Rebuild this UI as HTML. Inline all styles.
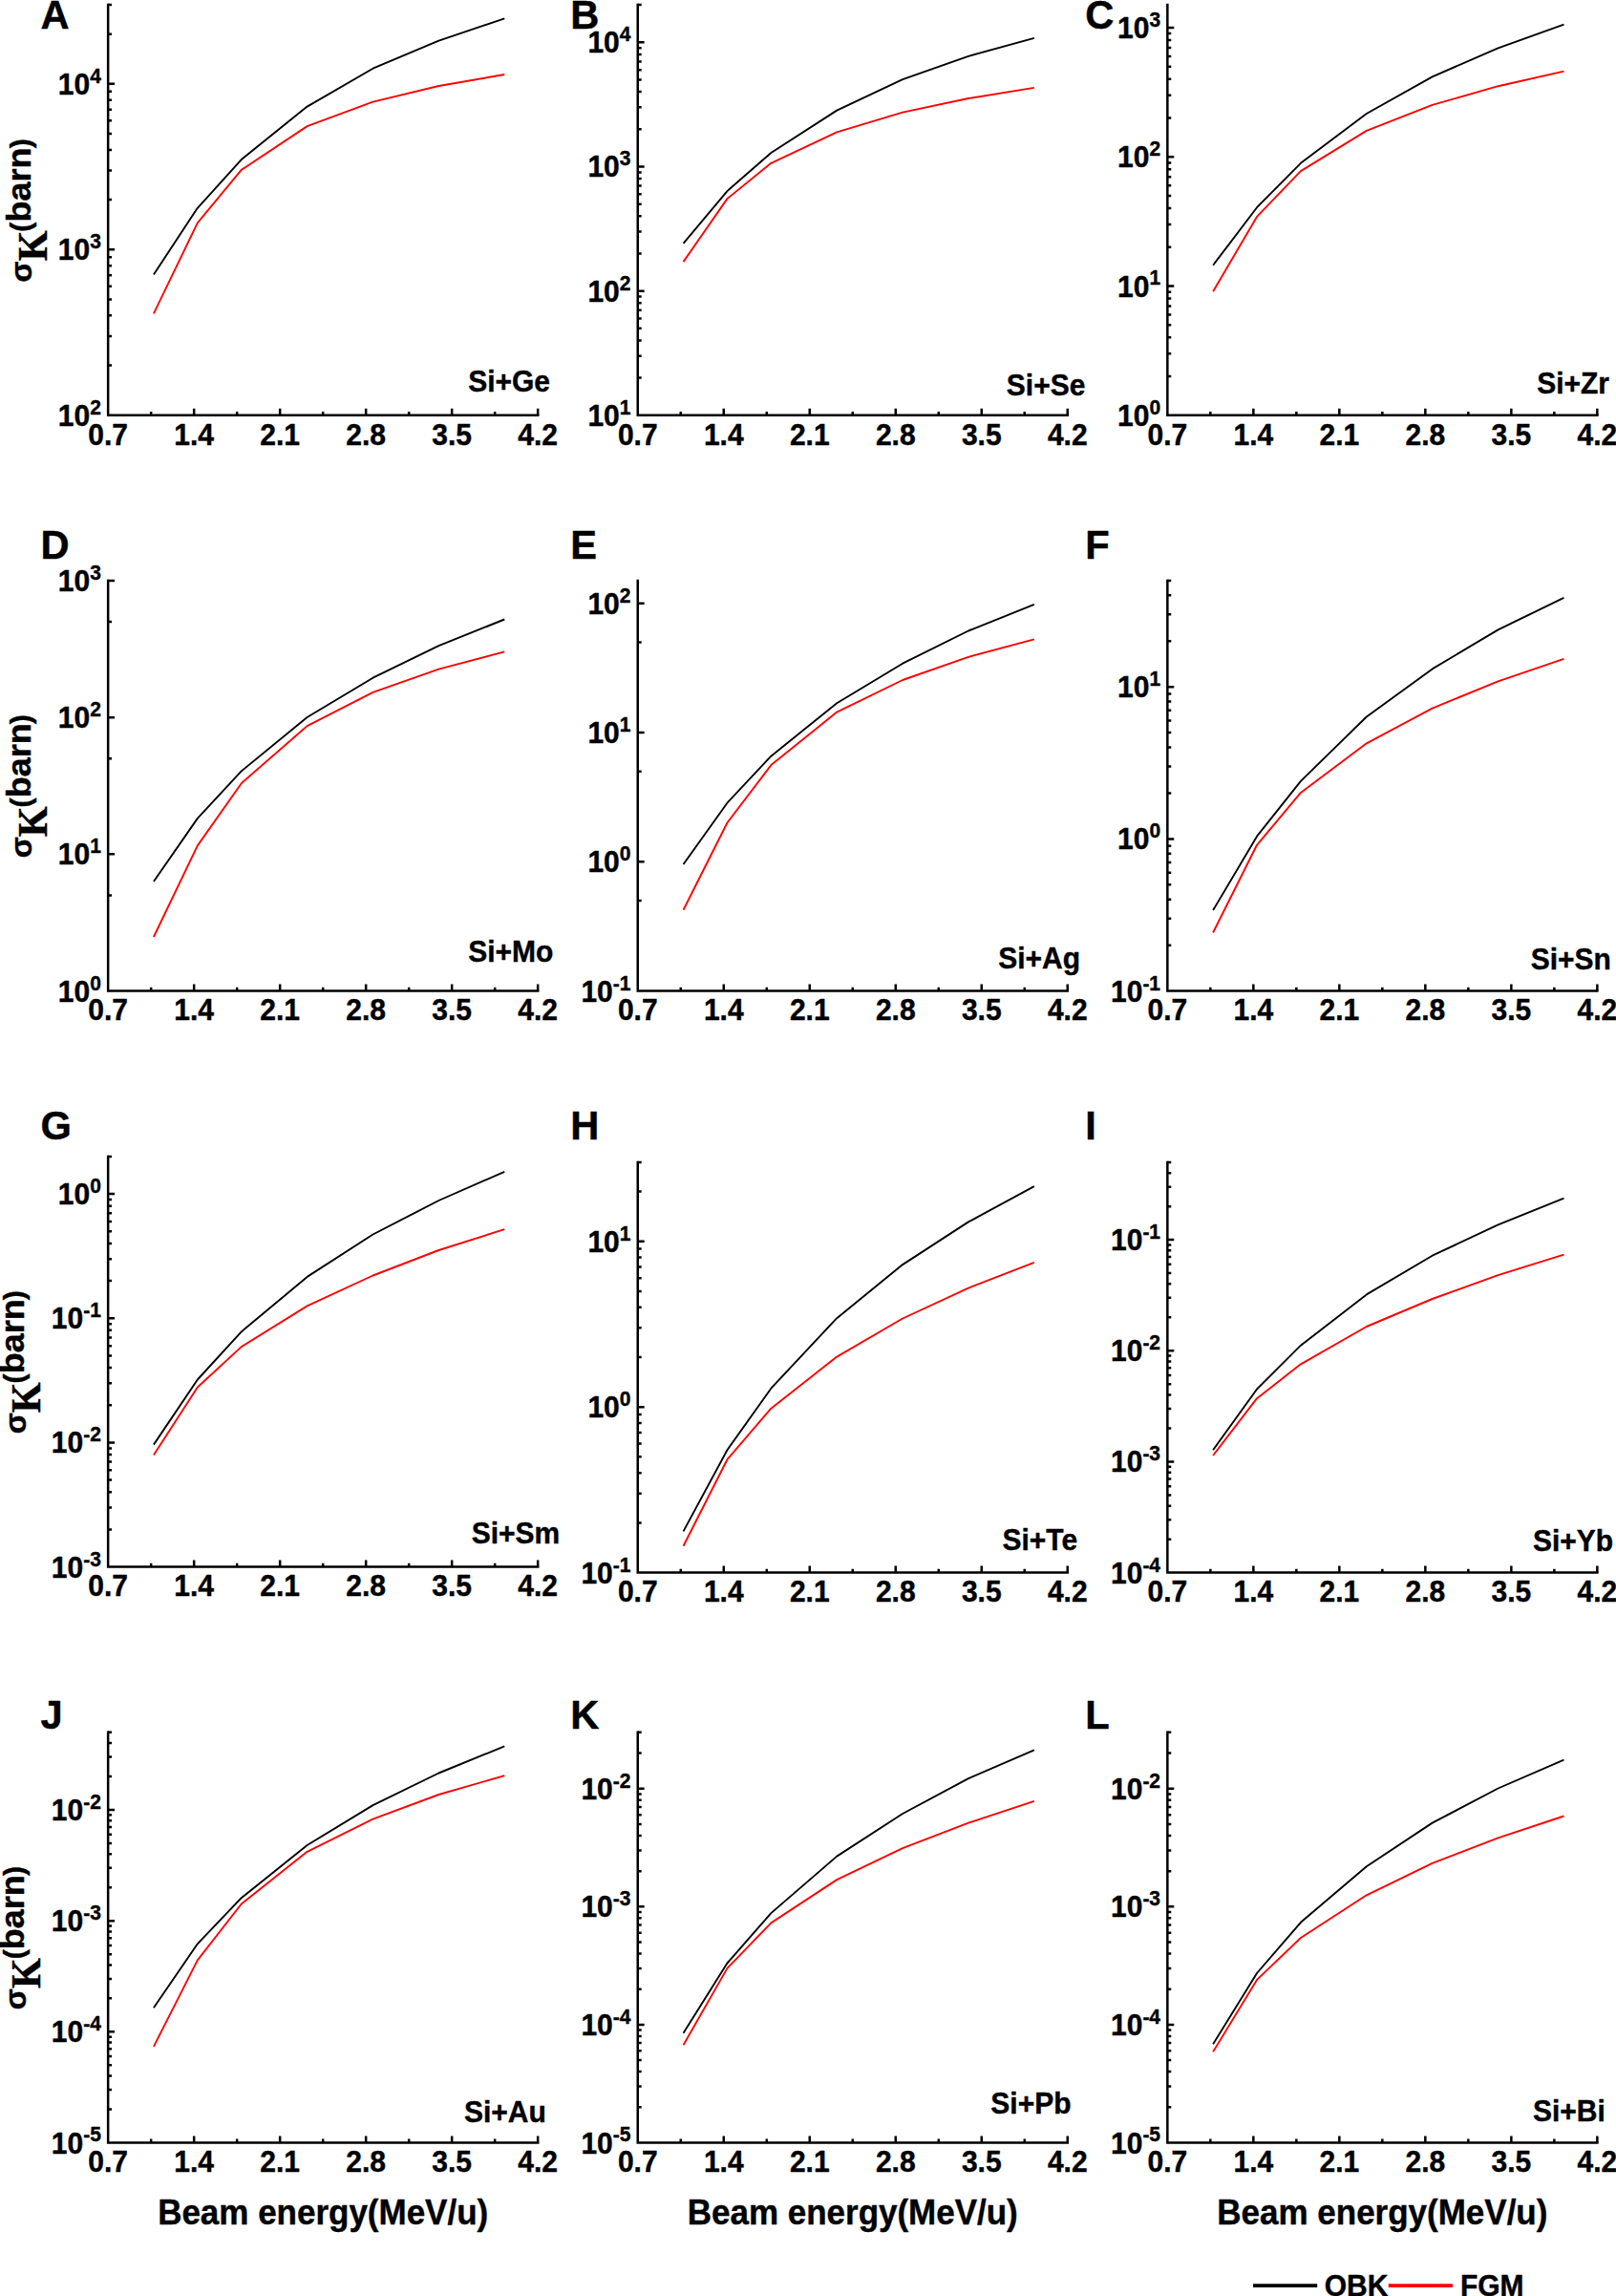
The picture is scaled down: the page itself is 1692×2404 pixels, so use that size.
<!DOCTYPE html>
<html lang="en">
<head>
<meta charset="utf-8">
<title>K-shell ionization cross sections: OBK vs FGM</title>
<style>
html,body{margin:0;padding:0;background:#fff;}
body{width:1692px;height:2404px;overflow:hidden;}
svg{display:block;}
svg text{font-family:'Liberation Sans', sans-serif;font-weight:700;fill:#000;stroke:#000;stroke-width:0.4px;stroke-linejoin:round;}
</style>
</head>
<body>
<svg width="1692" height="2404" viewBox="0 0 1692 2404">
<rect x="0" y="0" width="1692" height="2404" fill="#fff"/>
<g>
<path d="M113.15 5.1 V434.8 H563.15" fill="none" stroke="#000" stroke-width="2.5" stroke-linecap="square" stroke-linejoin="miter"/>
<path d="M158.15 434.8 v-3.9 M203.15 434.8 v-7 M248.15 434.8 v-3.9 M293.15 434.8 v-7 M338.15 434.8 v-3.9 M383.15 434.8 v-7 M428.15 434.8 v-3.9 M473.15 434.8 v-7 M518.15 434.8 v-3.9 M563.15 434.8 v-7 M113.15 382.58 h3.9 M113.15 352.03 h3.9 M113.15 330.36 h3.9 M113.15 313.55 h3.9 M113.15 299.82 h3.9 M113.15 288.2 h3.9 M113.15 278.14 h3.9 M113.15 269.27 h3.9 M113.15 261.33 h6.9 M113.15 209.11 h3.9 M113.15 178.57 h3.9 M113.15 156.89 h3.9 M113.15 140.08 h3.9 M113.15 126.35 h3.9 M113.15 114.74 h3.9 M113.15 104.68 h3.9 M113.15 95.8 h3.9 M113.15 87.87 h6.9 M113.15 35.65 h3.9 M113.15 5.1 h3.9" fill="none" stroke="#000" stroke-width="2.5"/>
<polyline points="160.91,287.4 206.82,217.8 252.74,167.1 321.62,111.6 390.5,71.7 459.37,42.7 528.25,19.4" fill="none" stroke="#000" stroke-width="1.9" stroke-linejoin="round"/>
<polyline points="160.91,328.3 206.82,233.4 252.74,177.9 321.62,132.1 390.5,106.7 459.37,90 528.25,78" fill="none" stroke="#f00" stroke-width="1.9" stroke-linejoin="round"/>
<text transform="translate(113.15 465.5) scale(1 1.04)" font-size="30" text-anchor="middle">0.7</text>
<text transform="translate(203.15 465.5) scale(1 1.04)" font-size="30" text-anchor="middle">1.4</text>
<text transform="translate(293.15 465.5) scale(1 1.04)" font-size="30" text-anchor="middle">2.1</text>
<text transform="translate(383.15 465.5) scale(1 1.04)" font-size="30" text-anchor="middle">2.8</text>
<text transform="translate(473.15 465.5) scale(1 1.04)" font-size="30" text-anchor="middle">3.5</text>
<text transform="translate(563.15 465.5) scale(1 1.04)" font-size="30" text-anchor="middle">4.2</text>
<text transform="translate(105.85 445.8) scale(1 1.04)" font-size="30" text-anchor="end">10<tspan font-size="21" dy="-11.63">2</tspan></text>
<text transform="translate(105.85 272.33) scale(1 1.04)" font-size="30" text-anchor="end">10<tspan font-size="21" dy="-11.63">3</tspan></text>
<text transform="translate(105.85 98.87) scale(1 1.04)" font-size="30" text-anchor="end">10<tspan font-size="21" dy="-11.63">4</tspan></text>
<text transform="translate(490.2 409.8) scale(1 1.04)" font-size="30">Si+Ge</text>
<text transform="translate(42.5 30.3) scale(1 1.04)" font-size="41.67">A</text>
<g transform="translate(32.2 219.95) rotate(-90)">
<text><tspan x="-75.6" y="1.2" font-size="32.2">σ</tspan><tspan x="-53.4" y="16.9" font-size="43.5" style="font-family:'Liberation Serif', serif" textLength="31.8" lengthAdjust="spacingAndGlyphs">K</tspan><tspan x="-22.7" y="0" font-size="30">(</tspan><tspan x="-12.5" y="0" font-size="34.5" textLength="78" lengthAdjust="spacingAndGlyphs">barn</tspan><tspan x="64.6" y="0" font-size="30">)</tspan></text>
</g>
</g>
<g>
<path d="M667.75 5.1 V434.8 H1117.75" fill="none" stroke="#000" stroke-width="2.5" stroke-linecap="square" stroke-linejoin="miter"/>
<path d="M712.75 434.8 v-3.9 M757.75 434.8 v-7 M802.75 434.8 v-3.9 M847.75 434.8 v-7 M892.75 434.8 v-3.9 M937.75 434.8 v-7 M982.75 434.8 v-3.9 M1027.75 434.8 v-7 M1072.75 434.8 v-3.9 M1117.75 434.8 v-7 M667.75 395.61 h3.9 M667.75 372.69 h3.9 M667.75 356.43 h3.9 M667.75 343.81 h3.9 M667.75 333.51 h3.9 M667.75 324.79 h3.9 M667.75 317.24 h3.9 M667.75 310.58 h3.9 M667.75 304.63 h6.9 M667.75 265.44 h3.9 M667.75 242.52 h3.9 M667.75 226.26 h3.9 M667.75 213.64 h3.9 M667.75 203.34 h3.9 M667.75 194.62 h3.9 M667.75 187.07 h3.9 M667.75 180.41 h3.9 M667.75 174.46 h6.9 M667.75 135.27 h3.9 M667.75 112.35 h3.9 M667.75 96.09 h3.9 M667.75 83.47 h3.9 M667.75 73.16 h3.9 M667.75 64.45 h3.9 M667.75 56.9 h3.9 M667.75 50.24 h3.9 M667.75 44.29 h6.9 M667.75 5.1 h3.9" fill="none" stroke="#000" stroke-width="2.5"/>
<polyline points="715.51,254.8 761.42,200.1 807.34,160 876.22,115.6 945.1,83.1 1013.97,58.9 1082.85,39.9" fill="none" stroke="#000" stroke-width="1.9" stroke-linejoin="round"/>
<polyline points="715.51,274.1 761.42,208.1 807.34,170.8 876.22,138.3 945.1,117.6 1013.97,103 1082.85,91.9" fill="none" stroke="#f00" stroke-width="1.9" stroke-linejoin="round"/>
<text transform="translate(667.75 465.5) scale(1 1.04)" font-size="30" text-anchor="middle">0.7</text>
<text transform="translate(757.75 465.5) scale(1 1.04)" font-size="30" text-anchor="middle">1.4</text>
<text transform="translate(847.75 465.5) scale(1 1.04)" font-size="30" text-anchor="middle">2.1</text>
<text transform="translate(937.75 465.5) scale(1 1.04)" font-size="30" text-anchor="middle">2.8</text>
<text transform="translate(1027.75 465.5) scale(1 1.04)" font-size="30" text-anchor="middle">3.5</text>
<text transform="translate(1117.75 465.5) scale(1 1.04)" font-size="30" text-anchor="middle">4.2</text>
<text transform="translate(660.45 445.8) scale(1 1.04)" font-size="30" text-anchor="end">10<tspan font-size="21" dy="-11.63">1</tspan></text>
<text transform="translate(660.45 315.63) scale(1 1.04)" font-size="30" text-anchor="end">10<tspan font-size="21" dy="-11.63">2</tspan></text>
<text transform="translate(660.45 185.46) scale(1 1.04)" font-size="30" text-anchor="end">10<tspan font-size="21" dy="-11.63">3</tspan></text>
<text transform="translate(660.45 55.29) scale(1 1.04)" font-size="30" text-anchor="end">10<tspan font-size="21" dy="-11.63">4</tspan></text>
<text transform="translate(1053.8 414.2) scale(1 1.04)" font-size="30">Si+Se</text>
<text transform="translate(597.3 30.3) scale(1 1.04)" font-size="41.67">B</text>
</g>
<g>
<path d="M1222.35 5.1 V434.8 H1672.35" fill="none" stroke="#000" stroke-width="2.5" stroke-linecap="square" stroke-linejoin="miter"/>
<path d="M1267.35 434.8 v-3.9 M1312.35 434.8 v-7 M1357.35 434.8 v-3.9 M1402.35 434.8 v-7 M1447.35 434.8 v-3.9 M1492.35 434.8 v-7 M1537.35 434.8 v-3.9 M1582.35 434.8 v-7 M1627.35 434.8 v-3.9 M1672.35 434.8 v-7 M1222.35 394.07 h3.9 M1222.35 370.25 h3.9 M1222.35 353.35 h3.9 M1222.35 340.23 h3.9 M1222.35 329.52 h3.9 M1222.35 320.46 h3.9 M1222.35 312.62 h3.9 M1222.35 305.7 h3.9 M1222.35 299.51 h6.9 M1222.35 258.78 h3.9 M1222.35 234.96 h3.9 M1222.35 218.05 h3.9 M1222.35 204.94 h3.9 M1222.35 194.23 h3.9 M1222.35 185.17 h3.9 M1222.35 177.33 h3.9 M1222.35 170.41 h3.9 M1222.35 164.22 h6.9 M1222.35 123.49 h3.9 M1222.35 99.67 h3.9 M1222.35 82.76 h3.9 M1222.35 69.65 h3.9 M1222.35 58.94 h3.9 M1222.35 49.88 h3.9 M1222.35 42.03 h3.9 M1222.35 35.11 h3.9 M1222.35 28.92 h6.9" fill="none" stroke="#000" stroke-width="2.5"/>
<polyline points="1270.11,277.8 1316.02,217.2 1361.94,170.8 1430.82,119 1499.7,80.3 1568.57,50.4 1637.45,25.6" fill="none" stroke="#000" stroke-width="1.9" stroke-linejoin="round"/>
<polyline points="1270.11,305.2 1316.02,226.9 1361.94,179.1 1430.82,136.9 1499.7,109.9 1568.57,90.2 1637.45,74.6" fill="none" stroke="#f00" stroke-width="1.9" stroke-linejoin="round"/>
<text transform="translate(1222.35 465.5) scale(1 1.04)" font-size="30" text-anchor="middle">0.7</text>
<text transform="translate(1312.35 465.5) scale(1 1.04)" font-size="30" text-anchor="middle">1.4</text>
<text transform="translate(1402.35 465.5) scale(1 1.04)" font-size="30" text-anchor="middle">2.1</text>
<text transform="translate(1492.35 465.5) scale(1 1.04)" font-size="30" text-anchor="middle">2.8</text>
<text transform="translate(1582.35 465.5) scale(1 1.04)" font-size="30" text-anchor="middle">3.5</text>
<text transform="translate(1672.35 465.5) scale(1 1.04)" font-size="30" text-anchor="middle">4.2</text>
<text transform="translate(1215.05 445.8) scale(1 1.04)" font-size="30" text-anchor="end">10<tspan font-size="21" dy="-11.63">0</tspan></text>
<text transform="translate(1215.05 310.51) scale(1 1.04)" font-size="30" text-anchor="end">10<tspan font-size="21" dy="-11.63">1</tspan></text>
<text transform="translate(1215.05 175.22) scale(1 1.04)" font-size="30" text-anchor="end">10<tspan font-size="21" dy="-11.63">2</tspan></text>
<text transform="translate(1215.05 39.92) scale(1 1.04)" font-size="30" text-anchor="end">10<tspan font-size="21" dy="-11.63">3</tspan></text>
<text transform="translate(1609.2 411.9) scale(1 1.04)" font-size="30">Si+Zr</text>
<text transform="translate(1136.3 30.3) scale(1 1.04)" font-size="41.67">C</text>
</g>
<g>
<path d="M113.15 607.9 V1037.6 H563.15" fill="none" stroke="#000" stroke-width="2.5" stroke-linecap="square" stroke-linejoin="miter"/>
<path d="M158.15 1037.6 v-3.9 M203.15 1037.6 v-7 M248.15 1037.6 v-3.9 M293.15 1037.6 v-7 M338.15 1037.6 v-3.9 M383.15 1037.6 v-7 M428.15 1037.6 v-3.9 M473.15 1037.6 v-7 M518.15 1037.6 v-3.9 M563.15 1037.6 v-7 M113.15 937.48 h3.9 M113.15 894.37 h6.9 M113.15 794.25 h3.9 M113.15 751.13 h6.9 M113.15 651.02 h3.9 M113.15 607.9 h6.9" fill="none" stroke="#000" stroke-width="2.5"/>
<polyline points="160.91,923 206.82,856.9 252.74,807.4 321.62,751 390.5,709.7 459.37,676.2 528.25,648.5" fill="none" stroke="#000" stroke-width="1.9" stroke-linejoin="round"/>
<polyline points="160.91,981 206.82,885.4 252.74,820.2 321.62,760.1 390.5,724.8 459.37,700.6 528.25,682.4" fill="none" stroke="#f00" stroke-width="1.9" stroke-linejoin="round"/>
<text transform="translate(113.15 1068.3) scale(1 1.04)" font-size="30" text-anchor="middle">0.7</text>
<text transform="translate(203.15 1068.3) scale(1 1.04)" font-size="30" text-anchor="middle">1.4</text>
<text transform="translate(293.15 1068.3) scale(1 1.04)" font-size="30" text-anchor="middle">2.1</text>
<text transform="translate(383.15 1068.3) scale(1 1.04)" font-size="30" text-anchor="middle">2.8</text>
<text transform="translate(473.15 1068.3) scale(1 1.04)" font-size="30" text-anchor="middle">3.5</text>
<text transform="translate(563.15 1068.3) scale(1 1.04)" font-size="30" text-anchor="middle">4.2</text>
<text transform="translate(105.85 1048.6) scale(1 1.04)" font-size="30" text-anchor="end">10<tspan font-size="21" dy="-11.63">0</tspan></text>
<text transform="translate(105.85 905.37) scale(1 1.04)" font-size="30" text-anchor="end">10<tspan font-size="21" dy="-11.63">1</tspan></text>
<text transform="translate(105.85 762.13) scale(1 1.04)" font-size="30" text-anchor="end">10<tspan font-size="21" dy="-11.63">2</tspan></text>
<text transform="translate(105.85 618.9) scale(1 1.04)" font-size="30" text-anchor="end">10<tspan font-size="21" dy="-11.63">3</tspan></text>
<text transform="translate(490.2 1007.2) scale(1 1.04)" font-size="30">Si+Mo</text>
<text transform="translate(42.5 584.6) scale(1 1.04)" font-size="41.67">D</text>
<g transform="translate(32.2 822.75) rotate(-90)">
<text><tspan x="-75.6" y="1.2" font-size="32.2">σ</tspan><tspan x="-53.4" y="16.9" font-size="43.5" style="font-family:'Liberation Serif', serif" textLength="31.8" lengthAdjust="spacingAndGlyphs">K</tspan><tspan x="-22.7" y="0" font-size="30">(</tspan><tspan x="-12.5" y="0" font-size="34.5" textLength="78" lengthAdjust="spacingAndGlyphs">barn</tspan><tspan x="64.6" y="0" font-size="30">)</tspan></text>
</g>
</g>
<g>
<path d="M667.75 607.9 V1037.6 H1117.75" fill="none" stroke="#000" stroke-width="2.5" stroke-linecap="square" stroke-linejoin="miter"/>
<path d="M712.75 1037.6 v-3.9 M757.75 1037.6 v-7 M802.75 1037.6 v-3.9 M847.75 1037.6 v-7 M892.75 1037.6 v-3.9 M937.75 1037.6 v-7 M982.75 1037.6 v-3.9 M1027.75 1037.6 v-7 M1072.75 1037.6 v-3.9 M1117.75 1037.6 v-7 M667.75 943.03 h3.9 M667.75 902.31 h6.9 M667.75 807.74 h3.9 M667.75 767.02 h6.9 M667.75 672.45 h3.9 M667.75 631.72 h6.9" fill="none" stroke="#000" stroke-width="2.5"/>
<polyline points="715.51,905 761.42,840.7 807.34,791.7 876.22,736.2 945.1,694.7 1013.97,660.5 1082.85,632.9" fill="none" stroke="#000" stroke-width="1.9" stroke-linejoin="round"/>
<polyline points="715.51,952.8 761.42,861.5 807.34,801.1 876.22,745.6 945.1,712 1013.97,687.8 1082.85,669.3" fill="none" stroke="#f00" stroke-width="1.9" stroke-linejoin="round"/>
<text transform="translate(667.75 1068.3) scale(1 1.04)" font-size="30" text-anchor="middle">0.7</text>
<text transform="translate(757.75 1068.3) scale(1 1.04)" font-size="30" text-anchor="middle">1.4</text>
<text transform="translate(847.75 1068.3) scale(1 1.04)" font-size="30" text-anchor="middle">2.1</text>
<text transform="translate(937.75 1068.3) scale(1 1.04)" font-size="30" text-anchor="middle">2.8</text>
<text transform="translate(1027.75 1068.3) scale(1 1.04)" font-size="30" text-anchor="middle">3.5</text>
<text transform="translate(1117.75 1068.3) scale(1 1.04)" font-size="30" text-anchor="middle">4.2</text>
<text transform="translate(660.45 1048.6) scale(1 1.04)" font-size="30" text-anchor="end">10<tspan font-size="21" dy="-11.63">-1</tspan></text>
<text transform="translate(660.45 913.31) scale(1 1.04)" font-size="30" text-anchor="end">10<tspan font-size="21" dy="-11.63">0</tspan></text>
<text transform="translate(660.45 778.02) scale(1 1.04)" font-size="30" text-anchor="end">10<tspan font-size="21" dy="-11.63">1</tspan></text>
<text transform="translate(660.45 642.72) scale(1 1.04)" font-size="30" text-anchor="end">10<tspan font-size="21" dy="-11.63">2</tspan></text>
<text transform="translate(1045.2 1014.3) scale(1 1.04)" font-size="30">Si+Ag</text>
<text transform="translate(597.3 584.6) scale(1 1.04)" font-size="41.67">E</text>
</g>
<g>
<path d="M1222.35 607.9 V1037.6 H1672.35" fill="none" stroke="#000" stroke-width="2.5" stroke-linecap="square" stroke-linejoin="miter"/>
<path d="M1267.35 1037.6 v-3.9 M1312.35 1037.6 v-7 M1357.35 1037.6 v-3.9 M1402.35 1037.6 v-7 M1447.35 1037.6 v-3.9 M1492.35 1037.6 v-7 M1537.35 1037.6 v-3.9 M1582.35 1037.6 v-7 M1627.35 1037.6 v-3.9 M1672.35 1037.6 v-7 M1222.35 989.67 h3.9 M1222.35 961.64 h3.9 M1222.35 941.75 h3.9 M1222.35 926.32 h3.9 M1222.35 913.71 h3.9 M1222.35 903.05 h3.9 M1222.35 893.82 h3.9 M1222.35 885.68 h3.9 M1222.35 878.39 h6.9 M1222.35 830.46 h3.9 M1222.35 802.43 h3.9 M1222.35 782.54 h3.9 M1222.35 767.11 h3.9 M1222.35 754.5 h3.9 M1222.35 743.84 h3.9 M1222.35 734.61 h3.9 M1222.35 726.47 h3.9 M1222.35 719.18 h6.9 M1222.35 671.26 h3.9 M1222.35 643.22 h3.9 M1222.35 623.33 h3.9 M1222.35 607.9 h3.9" fill="none" stroke="#000" stroke-width="2.5"/>
<polyline points="1270.11,953.1 1316.02,875.7 1361.94,817.9 1430.82,750.5 1499.7,700.4 1568.57,659.4 1637.45,625.8" fill="none" stroke="#000" stroke-width="1.9" stroke-linejoin="round"/>
<polyline points="1270.11,976.5 1316.02,884.8 1361.94,829.9 1430.82,778.3 1499.7,741.6 1568.57,713.4 1637.45,689.8" fill="none" stroke="#f00" stroke-width="1.9" stroke-linejoin="round"/>
<text transform="translate(1222.35 1068.3) scale(1 1.04)" font-size="30" text-anchor="middle">0.7</text>
<text transform="translate(1312.35 1068.3) scale(1 1.04)" font-size="30" text-anchor="middle">1.4</text>
<text transform="translate(1402.35 1068.3) scale(1 1.04)" font-size="30" text-anchor="middle">2.1</text>
<text transform="translate(1492.35 1068.3) scale(1 1.04)" font-size="30" text-anchor="middle">2.8</text>
<text transform="translate(1582.35 1068.3) scale(1 1.04)" font-size="30" text-anchor="middle">3.5</text>
<text transform="translate(1672.35 1068.3) scale(1 1.04)" font-size="30" text-anchor="middle">4.2</text>
<text transform="translate(1215.05 1048.6) scale(1 1.04)" font-size="30" text-anchor="end">10<tspan font-size="21" dy="-11.63">-1</tspan></text>
<text transform="translate(1215.05 889.39) scale(1 1.04)" font-size="30" text-anchor="end">10<tspan font-size="21" dy="-11.63">0</tspan></text>
<text transform="translate(1215.05 730.18) scale(1 1.04)" font-size="30" text-anchor="end">10<tspan font-size="21" dy="-11.63">1</tspan></text>
<text transform="translate(1602.7 1014.9) scale(1 1.04)" font-size="30">Si+Sn</text>
<text transform="translate(1136.3 584.6) scale(1 1.04)" font-size="41.67">F</text>
</g>
<g>
<path d="M113.15 1210.9 V1640.6 H563.15" fill="none" stroke="#000" stroke-width="2.5" stroke-linecap="square" stroke-linejoin="miter"/>
<path d="M158.15 1640.6 v-3.9 M203.15 1640.6 v-7 M248.15 1640.6 v-3.9 M293.15 1640.6 v-7 M338.15 1640.6 v-3.9 M383.15 1640.6 v-7 M428.15 1640.6 v-3.9 M473.15 1640.6 v-7 M518.15 1640.6 v-3.9 M563.15 1640.6 v-7 M113.15 1601.41 h3.9 M113.15 1578.49 h3.9 M113.15 1562.23 h3.9 M113.15 1549.61 h3.9 M113.15 1539.31 h3.9 M113.15 1530.59 h3.9 M113.15 1523.04 h3.9 M113.15 1516.38 h3.9 M113.15 1510.43 h6.9 M113.15 1471.24 h3.9 M113.15 1448.32 h3.9 M113.15 1432.06 h3.9 M113.15 1419.44 h3.9 M113.15 1409.14 h3.9 M113.15 1400.42 h3.9 M113.15 1392.87 h3.9 M113.15 1386.21 h3.9 M113.15 1380.26 h6.9 M113.15 1341.07 h3.9 M113.15 1318.15 h3.9 M113.15 1301.89 h3.9 M113.15 1289.27 h3.9 M113.15 1278.96 h3.9 M113.15 1270.25 h3.9 M113.15 1262.7 h3.9 M113.15 1256.04 h3.9 M113.15 1250.09 h6.9 M113.15 1210.9 h3.9" fill="none" stroke="#000" stroke-width="2.5"/>
<polyline points="160.91,1512.6 206.82,1444.5 252.74,1394.4 321.62,1336.9 390.5,1292.5 459.37,1257 528.25,1226.8" fill="none" stroke="#000" stroke-width="1.9" stroke-linejoin="round"/>
<polyline points="160.91,1523.4 206.82,1452.5 252.74,1410.1 321.62,1367.4 390.5,1335.5 459.37,1309 528.25,1287.1" fill="none" stroke="#f00" stroke-width="1.9" stroke-linejoin="round"/>
<text transform="translate(113.15 1671.3) scale(1 1.04)" font-size="30" text-anchor="middle">0.7</text>
<text transform="translate(203.15 1671.3) scale(1 1.04)" font-size="30" text-anchor="middle">1.4</text>
<text transform="translate(293.15 1671.3) scale(1 1.04)" font-size="30" text-anchor="middle">2.1</text>
<text transform="translate(383.15 1671.3) scale(1 1.04)" font-size="30" text-anchor="middle">2.8</text>
<text transform="translate(473.15 1671.3) scale(1 1.04)" font-size="30" text-anchor="middle">3.5</text>
<text transform="translate(563.15 1671.3) scale(1 1.04)" font-size="30" text-anchor="middle">4.2</text>
<text transform="translate(105.85 1651.6) scale(1 1.04)" font-size="30" text-anchor="end">10<tspan font-size="21" dy="-11.63">-3</tspan></text>
<text transform="translate(105.85 1521.43) scale(1 1.04)" font-size="30" text-anchor="end">10<tspan font-size="21" dy="-11.63">-2</tspan></text>
<text transform="translate(105.85 1391.26) scale(1 1.04)" font-size="30" text-anchor="end">10<tspan font-size="21" dy="-11.63">-1</tspan></text>
<text transform="translate(105.85 1261.09) scale(1 1.04)" font-size="30" text-anchor="end">10<tspan font-size="21" dy="-11.63">0</tspan></text>
<text transform="translate(493.7 1615.9) scale(1 1.04)" font-size="30">Si+Sm</text>
<text transform="translate(42.5 1193.3) scale(1 1.04)" font-size="41.67">G</text>
<g transform="translate(25.3 1425.75) rotate(-90)">
<text><tspan x="-75.6" y="1.2" font-size="32.2">σ</tspan><tspan x="-53.4" y="16.9" font-size="43.5" style="font-family:'Liberation Serif', serif" textLength="31.8" lengthAdjust="spacingAndGlyphs">K</tspan><tspan x="-22.7" y="0" font-size="30">(</tspan><tspan x="-12.5" y="0" font-size="34.5" textLength="78" lengthAdjust="spacingAndGlyphs">barn</tspan><tspan x="64.6" y="0" font-size="30">)</tspan></text>
</g>
</g>
<g>
<path d="M667.75 1216.9 V1646.6 H1117.75" fill="none" stroke="#000" stroke-width="2.5" stroke-linecap="square" stroke-linejoin="miter"/>
<path d="M712.75 1646.6 v-3.9 M757.75 1646.6 v-7 M802.75 1646.6 v-3.9 M847.75 1646.6 v-7 M892.75 1646.6 v-3.9 M937.75 1646.6 v-7 M982.75 1646.6 v-3.9 M1027.75 1646.6 v-7 M1072.75 1646.6 v-3.9 M1117.75 1646.6 v-7 M667.75 1594.38 h3.9 M667.75 1563.83 h3.9 M667.75 1542.16 h3.9 M667.75 1525.35 h3.9 M667.75 1511.62 h3.9 M667.75 1500 h3.9 M667.75 1489.94 h3.9 M667.75 1481.07 h3.9 M667.75 1473.13 h6.9 M667.75 1420.91 h3.9 M667.75 1390.37 h3.9 M667.75 1368.69 h3.9 M667.75 1351.88 h3.9 M667.75 1338.15 h3.9 M667.75 1326.54 h3.9 M667.75 1316.48 h3.9 M667.75 1307.6 h3.9 M667.75 1299.67 h6.9 M667.75 1247.45 h3.9 M667.75 1216.9 h3.9" fill="none" stroke="#000" stroke-width="2.5"/>
<polyline points="715.51,1603.4 761.42,1518.3 807.34,1453.7 876.22,1380.2 945.1,1324.1 1013.97,1279.4 1082.85,1242.2" fill="none" stroke="#000" stroke-width="1.9" stroke-linejoin="round"/>
<polyline points="715.51,1618.8 761.42,1528.2 807.34,1474.7 876.22,1420.6 945.1,1380.5 1013.97,1348.6 1082.85,1321.9" fill="none" stroke="#f00" stroke-width="1.9" stroke-linejoin="round"/>
<text transform="translate(667.75 1677.3) scale(1 1.04)" font-size="30" text-anchor="middle">0.7</text>
<text transform="translate(757.75 1677.3) scale(1 1.04)" font-size="30" text-anchor="middle">1.4</text>
<text transform="translate(847.75 1677.3) scale(1 1.04)" font-size="30" text-anchor="middle">2.1</text>
<text transform="translate(937.75 1677.3) scale(1 1.04)" font-size="30" text-anchor="middle">2.8</text>
<text transform="translate(1027.75 1677.3) scale(1 1.04)" font-size="30" text-anchor="middle">3.5</text>
<text transform="translate(1117.75 1677.3) scale(1 1.04)" font-size="30" text-anchor="middle">4.2</text>
<text transform="translate(660.45 1657.6) scale(1 1.04)" font-size="30" text-anchor="end">10<tspan font-size="21" dy="-11.63">-1</tspan></text>
<text transform="translate(660.45 1484.13) scale(1 1.04)" font-size="30" text-anchor="end">10<tspan font-size="21" dy="-11.63">0</tspan></text>
<text transform="translate(660.45 1310.67) scale(1 1.04)" font-size="30" text-anchor="end">10<tspan font-size="21" dy="-11.63">1</tspan></text>
<text transform="translate(1049.5 1623) scale(1 1.04)" font-size="30">Si+Te</text>
<text transform="translate(597.3 1193.3) scale(1 1.04)" font-size="41.67">H</text>
</g>
<g>
<path d="M1222.35 1216.9 V1646.6 H1672.35" fill="none" stroke="#000" stroke-width="2.5" stroke-linecap="square" stroke-linejoin="miter"/>
<path d="M1267.35 1646.6 v-3.9 M1312.35 1646.6 v-7 M1357.35 1646.6 v-3.9 M1402.35 1646.6 v-7 M1447.35 1646.6 v-3.9 M1492.35 1646.6 v-7 M1537.35 1646.6 v-3.9 M1582.35 1646.6 v-7 M1627.35 1646.6 v-3.9 M1672.35 1646.6 v-7 M1222.35 1611.63 h3.9 M1222.35 1591.17 h3.9 M1222.35 1576.66 h3.9 M1222.35 1565.4 h3.9 M1222.35 1556.2 h3.9 M1222.35 1548.43 h3.9 M1222.35 1541.69 h3.9 M1222.35 1535.75 h3.9 M1222.35 1530.43 h6.9 M1222.35 1495.46 h3.9 M1222.35 1475.01 h3.9 M1222.35 1460.49 h3.9 M1222.35 1449.23 h3.9 M1222.35 1440.04 h3.9 M1222.35 1432.26 h3.9 M1222.35 1425.52 h3.9 M1222.35 1419.58 h3.9 M1222.35 1414.27 h6.9 M1222.35 1379.3 h3.9 M1222.35 1358.84 h3.9 M1222.35 1344.33 h3.9 M1222.35 1333.07 h3.9 M1222.35 1323.87 h3.9 M1222.35 1316.09 h3.9 M1222.35 1309.36 h3.9 M1222.35 1303.41 h3.9 M1222.35 1298.1 h6.9 M1222.35 1263.13 h3.9 M1222.35 1242.67 h3.9 M1222.35 1228.16 h3.9 M1222.35 1216.9 h3.9" fill="none" stroke="#000" stroke-width="2.5"/>
<polyline points="1270.11,1518.3 1316.02,1454.5 1361.94,1408.7 1430.82,1355.4 1499.7,1314.7 1568.57,1282.3 1637.45,1254.7" fill="none" stroke="#000" stroke-width="1.9" stroke-linejoin="round"/>
<polyline points="1270.11,1524 1316.02,1464.2 1361.94,1428.3 1430.82,1389 1499.7,1360 1568.57,1335.2 1637.45,1313.6" fill="none" stroke="#f00" stroke-width="1.9" stroke-linejoin="round"/>
<text transform="translate(1222.35 1677.3) scale(1 1.04)" font-size="30" text-anchor="middle">0.7</text>
<text transform="translate(1312.35 1677.3) scale(1 1.04)" font-size="30" text-anchor="middle">1.4</text>
<text transform="translate(1402.35 1677.3) scale(1 1.04)" font-size="30" text-anchor="middle">2.1</text>
<text transform="translate(1492.35 1677.3) scale(1 1.04)" font-size="30" text-anchor="middle">2.8</text>
<text transform="translate(1582.35 1677.3) scale(1 1.04)" font-size="30" text-anchor="middle">3.5</text>
<text transform="translate(1672.35 1677.3) scale(1 1.04)" font-size="30" text-anchor="middle">4.2</text>
<text transform="translate(1215.05 1657.6) scale(1 1.04)" font-size="30" text-anchor="end">10<tspan font-size="21" dy="-11.63">-4</tspan></text>
<text transform="translate(1215.05 1541.43) scale(1 1.04)" font-size="30" text-anchor="end">10<tspan font-size="21" dy="-11.63">-3</tspan></text>
<text transform="translate(1215.05 1425.27) scale(1 1.04)" font-size="30" text-anchor="end">10<tspan font-size="21" dy="-11.63">-2</tspan></text>
<text transform="translate(1215.05 1309.1) scale(1 1.04)" font-size="30" text-anchor="end">10<tspan font-size="21" dy="-11.63">-1</tspan></text>
<text transform="translate(1604.9 1623.7) scale(1 1.04)" font-size="30">Si+Yb</text>
<text transform="translate(1136.3 1193.3) scale(1 1.04)" font-size="41.67">I</text>
</g>
<g>
<path d="M113.15 1813.8 V2243.5 H563.15" fill="none" stroke="#000" stroke-width="2.5" stroke-linecap="square" stroke-linejoin="miter"/>
<path d="M158.15 2243.5 v-3.9 M203.15 2243.5 v-7 M248.15 2243.5 v-3.9 M293.15 2243.5 v-7 M338.15 2243.5 v-3.9 M383.15 2243.5 v-7 M428.15 2243.5 v-3.9 M473.15 2243.5 v-7 M518.15 2243.5 v-3.9 M563.15 2243.5 v-7 M113.15 2208.53 h3.9 M113.15 2188.07 h3.9 M113.15 2173.56 h3.9 M113.15 2162.3 h3.9 M113.15 2153.1 h3.9 M113.15 2145.33 h3.9 M113.15 2138.59 h3.9 M113.15 2132.65 h3.9 M113.15 2127.33 h6.9 M113.15 2092.36 h3.9 M113.15 2071.91 h3.9 M113.15 2057.39 h3.9 M113.15 2046.13 h3.9 M113.15 2036.94 h3.9 M113.15 2029.16 h3.9 M113.15 2022.42 h3.9 M113.15 2016.48 h3.9 M113.15 2011.17 h6.9 M113.15 1976.2 h3.9 M113.15 1955.74 h3.9 M113.15 1941.23 h3.9 M113.15 1929.97 h3.9 M113.15 1920.77 h3.9 M113.15 1912.99 h3.9 M113.15 1906.26 h3.9 M113.15 1900.31 h3.9 M113.15 1895 h6.9 M113.15 1860.03 h3.9 M113.15 1839.57 h3.9 M113.15 1825.06 h3.9 M113.15 1813.8 h3.9" fill="none" stroke="#000" stroke-width="2.5"/>
<polyline points="160.91,2102.2 206.82,2035.3 252.74,1987.2 321.62,1932 390.5,1890.1 459.37,1856.5 528.25,1828.4" fill="none" stroke="#000" stroke-width="1.9" stroke-linejoin="round"/>
<polyline points="160.91,2142.9 206.82,2052.4 252.74,1993.5 321.62,1938.8 390.5,1904.6 459.37,1879 528.25,1859.1" fill="none" stroke="#f00" stroke-width="1.9" stroke-linejoin="round"/>
<text transform="translate(113.15 2274.2) scale(1 1.04)" font-size="30" text-anchor="middle">0.7</text>
<text transform="translate(203.15 2274.2) scale(1 1.04)" font-size="30" text-anchor="middle">1.4</text>
<text transform="translate(293.15 2274.2) scale(1 1.04)" font-size="30" text-anchor="middle">2.1</text>
<text transform="translate(383.15 2274.2) scale(1 1.04)" font-size="30" text-anchor="middle">2.8</text>
<text transform="translate(473.15 2274.2) scale(1 1.04)" font-size="30" text-anchor="middle">3.5</text>
<text transform="translate(563.15 2274.2) scale(1 1.04)" font-size="30" text-anchor="middle">4.2</text>
<text transform="translate(105.85 2254.5) scale(1 1.04)" font-size="30" text-anchor="end">10<tspan font-size="21" dy="-11.63">-5</tspan></text>
<text transform="translate(105.85 2138.33) scale(1 1.04)" font-size="30" text-anchor="end">10<tspan font-size="21" dy="-11.63">-4</tspan></text>
<text transform="translate(105.85 2022.17) scale(1 1.04)" font-size="30" text-anchor="end">10<tspan font-size="21" dy="-11.63">-3</tspan></text>
<text transform="translate(105.85 1906) scale(1 1.04)" font-size="30" text-anchor="end">10<tspan font-size="21" dy="-11.63">-2</tspan></text>
<text transform="translate(486 2221.8) scale(1 1.04)" font-size="30">Si+Au</text>
<text transform="translate(42.5 1810) scale(1 1.04)" font-size="41.67">J</text>
<g transform="translate(25.3 2028.65) rotate(-90)">
<text><tspan x="-75.6" y="1.2" font-size="32.2">σ</tspan><tspan x="-53.4" y="16.9" font-size="43.5" style="font-family:'Liberation Serif', serif" textLength="31.8" lengthAdjust="spacingAndGlyphs">K</tspan><tspan x="-22.7" y="0" font-size="30">(</tspan><tspan x="-12.5" y="0" font-size="34.5" textLength="78" lengthAdjust="spacingAndGlyphs">barn</tspan><tspan x="64.6" y="0" font-size="30">)</tspan></text>
</g>
<text transform="translate(338.15 2328.7) scale(1 1.04)" font-size="35" text-anchor="middle">Beam energy(MeV/u)</text>
</g>
<g>
<path d="M667.75 1813.8 V2243.5 H1117.75" fill="none" stroke="#000" stroke-width="2.5" stroke-linecap="square" stroke-linejoin="miter"/>
<path d="M712.75 2243.5 v-3.9 M757.75 2243.5 v-7 M802.75 2243.5 v-3.9 M847.75 2243.5 v-7 M892.75 2243.5 v-3.9 M937.75 2243.5 v-7 M982.75 2243.5 v-3.9 M1027.75 2243.5 v-7 M1072.75 2243.5 v-3.9 M1117.75 2243.5 v-7 M667.75 2206.3 h3.9 M667.75 2184.54 h3.9 M667.75 2169.1 h3.9 M667.75 2157.12 h3.9 M667.75 2147.34 h3.9 M667.75 2139.06 h3.9 M667.75 2131.9 h3.9 M667.75 2125.58 h3.9 M667.75 2119.92 h6.9 M667.75 2082.72 h3.9 M667.75 2060.96 h3.9 M667.75 2045.52 h3.9 M667.75 2033.54 h3.9 M667.75 2023.76 h3.9 M667.75 2015.48 h3.9 M667.75 2008.32 h3.9 M667.75 2002 h3.9 M667.75 1996.34 h6.9 M667.75 1959.14 h3.9 M667.75 1937.38 h3.9 M667.75 1921.94 h3.9 M667.75 1909.96 h3.9 M667.75 1900.18 h3.9 M667.75 1891.9 h3.9 M667.75 1884.74 h3.9 M667.75 1878.42 h3.9 M667.75 1872.76 h6.9 M667.75 1835.56 h3.9 M667.75 1813.8 h3.9" fill="none" stroke="#000" stroke-width="2.5"/>
<polyline points="715.51,2128.7 761.42,2055.5 807.34,2003.1 876.22,1943.6 945.1,1899 1013.97,1862.2 1082.85,1832.3" fill="none" stroke="#000" stroke-width="1.9" stroke-linejoin="round"/>
<polyline points="715.51,2141.2 761.42,2060.9 807.34,2013.4 876.22,1968.1 945.1,1935.1 1013.97,1908.6 1082.85,1885.9" fill="none" stroke="#f00" stroke-width="1.9" stroke-linejoin="round"/>
<text transform="translate(667.75 2274.2) scale(1 1.04)" font-size="30" text-anchor="middle">0.7</text>
<text transform="translate(757.75 2274.2) scale(1 1.04)" font-size="30" text-anchor="middle">1.4</text>
<text transform="translate(847.75 2274.2) scale(1 1.04)" font-size="30" text-anchor="middle">2.1</text>
<text transform="translate(937.75 2274.2) scale(1 1.04)" font-size="30" text-anchor="middle">2.8</text>
<text transform="translate(1027.75 2274.2) scale(1 1.04)" font-size="30" text-anchor="middle">3.5</text>
<text transform="translate(1117.75 2274.2) scale(1 1.04)" font-size="30" text-anchor="middle">4.2</text>
<text transform="translate(660.45 2254.5) scale(1 1.04)" font-size="30" text-anchor="end">10<tspan font-size="21" dy="-11.63">-5</tspan></text>
<text transform="translate(660.45 2130.92) scale(1 1.04)" font-size="30" text-anchor="end">10<tspan font-size="21" dy="-11.63">-4</tspan></text>
<text transform="translate(660.45 2007.34) scale(1 1.04)" font-size="30" text-anchor="end">10<tspan font-size="21" dy="-11.63">-3</tspan></text>
<text transform="translate(660.45 1883.76) scale(1 1.04)" font-size="30" text-anchor="end">10<tspan font-size="21" dy="-11.63">-2</tspan></text>
<text transform="translate(1037.3 2212.6) scale(1 1.04)" font-size="30">Si+Pb</text>
<text transform="translate(597.3 1810) scale(1 1.04)" font-size="41.67">K</text>
<text transform="translate(892.75 2328.7) scale(1 1.04)" font-size="35" text-anchor="middle">Beam energy(MeV/u)</text>
</g>
<g>
<path d="M1222.35 1813.8 V2243.5 H1672.35" fill="none" stroke="#000" stroke-width="2.5" stroke-linecap="square" stroke-linejoin="miter"/>
<path d="M1267.35 2243.5 v-3.9 M1312.35 2243.5 v-7 M1357.35 2243.5 v-3.9 M1402.35 2243.5 v-7 M1447.35 2243.5 v-3.9 M1492.35 2243.5 v-7 M1537.35 2243.5 v-3.9 M1582.35 2243.5 v-7 M1627.35 2243.5 v-3.9 M1672.35 2243.5 v-7 M1222.35 2206.3 h3.9 M1222.35 2184.54 h3.9 M1222.35 2169.1 h3.9 M1222.35 2157.12 h3.9 M1222.35 2147.34 h3.9 M1222.35 2139.06 h3.9 M1222.35 2131.9 h3.9 M1222.35 2125.58 h3.9 M1222.35 2119.92 h6.9 M1222.35 2082.72 h3.9 M1222.35 2060.96 h3.9 M1222.35 2045.52 h3.9 M1222.35 2033.54 h3.9 M1222.35 2023.76 h3.9 M1222.35 2015.48 h3.9 M1222.35 2008.32 h3.9 M1222.35 2002 h3.9 M1222.35 1996.34 h6.9 M1222.35 1959.14 h3.9 M1222.35 1937.38 h3.9 M1222.35 1921.94 h3.9 M1222.35 1909.96 h3.9 M1222.35 1900.18 h3.9 M1222.35 1891.9 h3.9 M1222.35 1884.74 h3.9 M1222.35 1878.42 h3.9 M1222.35 1872.76 h6.9 M1222.35 1835.56 h3.9 M1222.35 1813.8 h3.9" fill="none" stroke="#000" stroke-width="2.5"/>
<polyline points="1270.11,2140.3 1316.02,2066 1361.94,2012.8 1430.82,1954.2 1499.7,1908.6 1568.57,1872.5 1637.45,1842.6" fill="none" stroke="#000" stroke-width="1.9" stroke-linejoin="round"/>
<polyline points="1270.11,2148.3 1316.02,2072.9 1361.94,2029 1430.82,1984.3 1499.7,1950.8 1568.57,1924.3 1637.45,1901.5" fill="none" stroke="#f00" stroke-width="1.9" stroke-linejoin="round"/>
<text transform="translate(1222.35 2274.2) scale(1 1.04)" font-size="30" text-anchor="middle">0.7</text>
<text transform="translate(1312.35 2274.2) scale(1 1.04)" font-size="30" text-anchor="middle">1.4</text>
<text transform="translate(1402.35 2274.2) scale(1 1.04)" font-size="30" text-anchor="middle">2.1</text>
<text transform="translate(1492.35 2274.2) scale(1 1.04)" font-size="30" text-anchor="middle">2.8</text>
<text transform="translate(1582.35 2274.2) scale(1 1.04)" font-size="30" text-anchor="middle">3.5</text>
<text transform="translate(1672.35 2274.2) scale(1 1.04)" font-size="30" text-anchor="middle">4.2</text>
<text transform="translate(1215.05 2254.5) scale(1 1.04)" font-size="30" text-anchor="end">10<tspan font-size="21" dy="-11.63">-5</tspan></text>
<text transform="translate(1215.05 2130.92) scale(1 1.04)" font-size="30" text-anchor="end">10<tspan font-size="21" dy="-11.63">-4</tspan></text>
<text transform="translate(1215.05 2007.34) scale(1 1.04)" font-size="30" text-anchor="end">10<tspan font-size="21" dy="-11.63">-3</tspan></text>
<text transform="translate(1215.05 1883.76) scale(1 1.04)" font-size="30" text-anchor="end">10<tspan font-size="21" dy="-11.63">-2</tspan></text>
<text transform="translate(1604.9 2220.9) scale(1 1.04)" font-size="30">Si+Bi</text>
<text transform="translate(1136.3 1810) scale(1 1.04)" font-size="41.67">L</text>
<text transform="translate(1447.35 2328.7) scale(1 1.04)" font-size="35" text-anchor="middle">Beam energy(MeV/u)</text>
</g>
<g>
<path d="M1312 2393.1 H1379.2" stroke="#000" stroke-width="3.6" fill="none"/>
<text transform="translate(1386.7 2403.5) scale(1 1.04)" font-size="30">OBK</text>
<path d="M1453.8 2393.1 H1521" stroke="#f00" stroke-width="3.6" fill="none"/>
<text transform="translate(1528.9 2403.5) scale(1 1.04)" font-size="30">FGM</text>
</g>
</svg>
</body>
</html>
